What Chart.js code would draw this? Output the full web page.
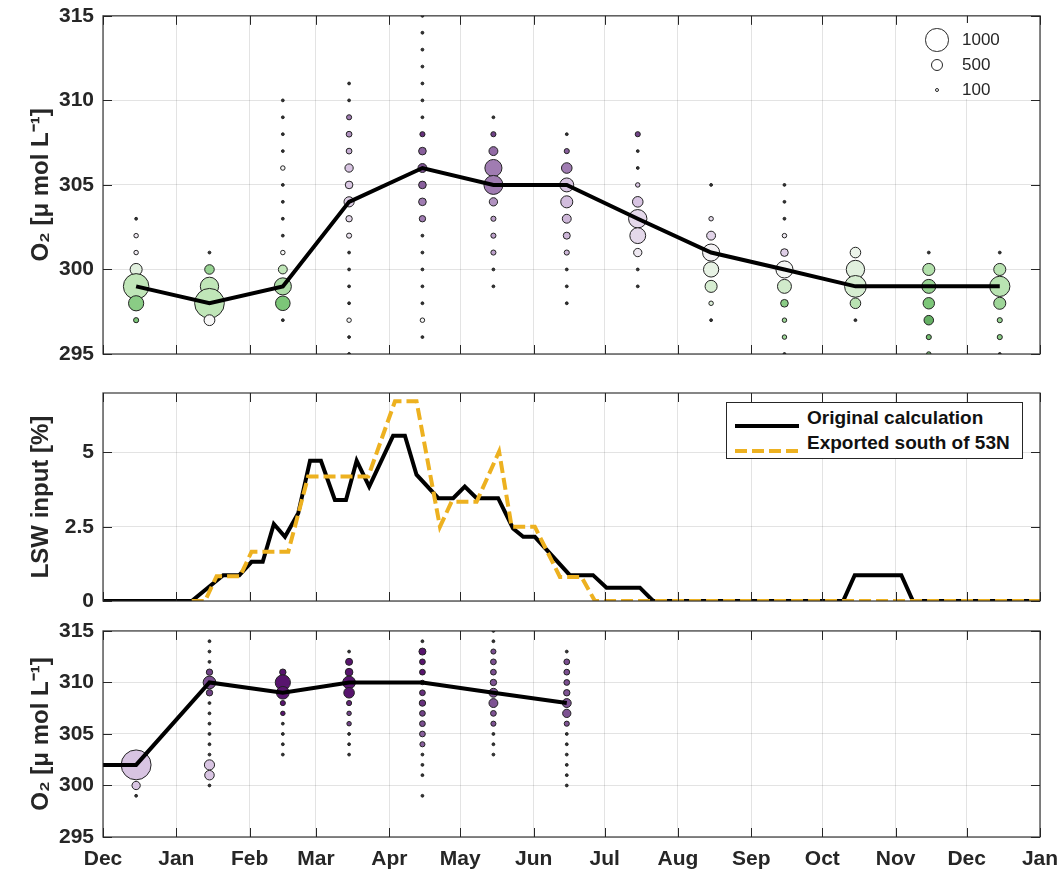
<!DOCTYPE html>
<html>
<head>
<meta charset="utf-8">
<script src="https://cdn.jsdelivr.net/npm/chart.js@4.4.1/dist/chart.umd.min.js"></script>
<style>
  body { margin: 0; background: #fff; }
  #wrap { position: relative; width: 1062px; height: 875px; font-family: 'Liberation Sans', Arial, Helvetica, sans-serif; }
  #wrap canvas { position: absolute; left: 0; }
  .box { position: absolute; background: #fff; }
  .lab { position: absolute; color: #262626; white-space: nowrap; }
  .dot { position: absolute; border: 1px solid #262626; border-radius: 50%; box-sizing: border-box; background: #fff; }
</style>
</head>
<body>
<div id="wrap">
  <canvas id="upper" width="1062" height="372" style="top:0"></canvas>
  <canvas id="middle" width="1062" height="235" style="top:380px"></canvas>
  <canvas id="lower" width="1062" height="260" style="top:615px"></canvas>
</div>
<script>
// x axis: days since 1 Dec, one tick per month start
const monthNames = ['Dec', 'Jan', 'Feb', 'Mar', 'Apr', 'May', 'Jun', 'Jul', 'Aug', 'Sep', 'Oct', 'Nov', 'Dec', 'Jan'];
const monthStart = [0, 31, 62, 90, 121, 151, 182, 212, 243, 274, 304, 335, 365, 396];
const colDays = [14, 45, 76, 104, 135, 165, 196, 226, 257, 288, 318, 349, 379];

// upper panel: monthly mean O2
const upperMean = [299, 298, 299, 304, 306, 305, 305, 303, 301, 300, 299, 299, 299];
// upper panel samples, per month: [O2, count, colour index (-3 green .. +3 purple)]
const upperCols = [
  [[303, 20, 0], [302, 100, 0.3], [301, 100, 0.3], [300, 460, -0.4], [299, 1100, -1], [298, 610, -1.8], [297, 130, -2]],
  [[301, 20, 0], [300, 340, -1.6], [299, 760, -1], [298, 1300, -1], [297, 400, 0]],
  [[310, 20, 0], [309, 20, 0], [308, 20, 0], [307, 20, 0], [306, 100, 0], [305, 20, 0], [304, 20, 0], [303, 20, 0], [302, 20, 0], [301, 100, 0], [300, 310, -1], [299, 700, -1.3], [298, 580, -2], [297, 20, 0]],
  [[311, 20, 0], [310, 20, 0], [309, 130, 2], [308, 160, 1.7], [307, 160, 1.3], [306, 280, 1], [305, 250, 0.9], [304, 370, 0.8], [303, 190, 0.6], [302, 130, 0.4], [301, 20, 0], [300, 20, 0], [299, 20, 0], [298, 20, 0], [297, 100, 0], [296, 20, 0], [295, 20, 0]],
  [[315, 20, 0], [314, 20, 0], [313, 20, 0], [312, 20, 0], [311, 20, 0], [310, 20, 0], [309, 20, 0], [308, 130, 3.2], [307, 250, 2.5], [306, 310, 2.7], [305, 250, 2.5], [304, 250, 2], [303, 190, 2], [302, 20, 0], [301, 20, 0], [300, 20, 0], [299, 20, 0], [298, 20, 0], [297, 100, 0], [296, 20, 0]],
  [[309, 20, 0], [308, 130, 3], [307, 310, 2.3], [306, 700, 2], [305, 790, 2], [304, 280, 1.7], [303, 130, 1.5], [302, 130, 1.5], [301, 130, 1.5], [300, 20, 0], [299, 20, 0]],
  [[308, 20, 0], [307, 130, 2.5], [306, 390, 2], [305, 550, 1], [304, 460, 1.1], [303, 310, 1.2], [302, 220, 1.2], [301, 130, 1.2], [300, 20, 0], [299, 20, 0], [298, 20, 0]],
  [[308, 130, 3], [307, 20, 0], [306, 20, 0], [305, 100, 1], [304, 390, 1], [303, 760, 0.6], [302, 640, 0.6], [301, 280, 0.3], [300, 20, 0], [299, 20, 0]],
  [[305, 20, 0], [303, 100, 0.5], [302, 310, 0.7], [301, 700, 0.1], [300, 610, -0.3], [299, 460, -0.6], [298, 100, -0.5], [297, 20, 0]],
  [[305, 20, 0], [304, 20, 0], [303, 20, 0], [302, 100, 0.3], [301, 250, 0.8], [300, 700, -0.05], [299, 550, -0.7], [298, 250, -1.8], [297, 100, -1.5], [296, 100, -1.5], [295, 20, 0]],
  [[301, 390, -0.2], [300, 760, -0.4], [299, 920, -0.6], [298, 390, -1.1], [297, 20, 0]],
  [[301, 20, 0], [300, 460, -1.2], [299, 550, -1.6], [298, 430, -2], [297, 340, -2.5], [296, 130, -2.2], [295, 100, -2]],
  [[301, 20, 0], [300, 460, -1.1], [299, 850, -1.1], [298, 460, -1.5], [297, 130, -1.6], [296, 130, -1.8], [295, 20, 0]]
];

// middle panel: LSW input [%]
const origDay = [0, 37.5, 50.8, 57.6, 62.8, 67.5, 72.2, 76.9, 82.5, 87.5, 92.1, 98.0, 102.7, 107.2, 112.5, 122.6, 127.6, 132.5, 141.7, 148.0, 152.9, 157.9, 167.0, 173.3, 177.6, 182.5, 197.3, 207.1, 212.8, 226.9, 232.5, 312.8, 317.7, 337.4, 342.3, 396];
const origPct = [0, 0, 0.87, 0.87, 1.32, 1.32, 2.59, 2.16, 2.95, 4.72, 4.72, 3.4, 3.4, 4.72, 3.85, 5.56, 5.56, 4.25, 3.46, 3.46, 3.85, 3.46, 3.46, 2.44, 2.16, 2.16, 0.87, 0.87, 0.45, 0.45, 0, 0, 0.87, 0.87, 0, 0];
const southDay = [37.5, 43.1, 48.0, 57.9, 62.8, 78.3, 86.7, 112.1, 123.4, 132.5, 142.4, 147.3, 157.9, 167.4, 172.7, 182.5, 193.1, 202.2, 207.9, 396];
const southPct = [0, 0, 0.83, 0.83, 1.66, 1.66, 4.19, 4.19, 6.72, 6.72, 2.5, 3.34, 3.34, 5.03, 2.5, 2.5, 0.81, 0.81, 0, 0];

// lower panel: monthly mean O2 and samples
const lowerDays = [0, 14, 45, 76, 104, 135, 165, 196];
const lowerMean = [302, 302, 310, 309, 310, 310, 309, 308];
const lowerCols = [
  [[302, 1310, 1], [300, 280, 1], [299, 20, 0]],
  [[314, 20, 0], [313, 20, 0], [312, 20, 0], [311, 190, 3], [310, 490, 2.8], [309, 190, 3], [308, 20, 0], [307, 20, 0], [306, 20, 0], [305, 20, 0], [304, 20, 0], [303, 20, 0], [302, 370, 1], [301, 340, 1], [300, 20, 0]],
  [[311, 190, 3.5], [310, 610, 3.5], [309, 490, 3.5], [308, 130, 3.5], [307, 100, 3.5], [306, 20, 0], [305, 20, 0], [304, 20, 0], [303, 20, 0]],
  [[313, 20, 0], [312, 220, 3.5], [311, 250, 3.5], [310, 490, 3.5], [309, 390, 3.5], [308, 130, 3.3], [307, 100, 3], [306, 100, 3], [305, 20, 0], [304, 20, 0], [303, 20, 0]],
  [[314, 20, 0], [313, 220, 3.5], [312, 160, 3.5], [311, 160, 3.5], [310, 100, 3.3], [309, 160, 3.2], [308, 190, 3.2], [307, 160, 3], [306, 160, 2.8], [305, 160, 2.5], [304, 130, 2.5], [303, 20, 0], [302, 20, 0], [301, 20, 0], [299, 20, 0]],
  [[315, 20, 0], [314, 20, 0], [313, 130, 2.8], [312, 160, 2.8], [311, 160, 2.8], [310, 190, 2.7], [309, 310, 2.7], [308, 310, 2.7], [307, 160, 2.7], [306, 130, 2.7], [305, 20, 0], [304, 20, 0], [303, 20, 0]],
  [[313, 20, 0], [312, 160, 2.8], [311, 160, 2.8], [310, 160, 2.8], [309, 190, 2.7], [308, 310, 2.7], [307, 280, 2.7], [306, 130, 2.7], [305, 20, 0], [304, 20, 0], [303, 20, 0], [302, 20, 0], [301, 20, 0], [300, 20, 0]]
];

const sizeLegend = [1000, 500, 100];

// ---- styling helpers ----
const FONT = "'Liberation Sans', Arial, Helvetica, sans-serif";
const INK = '#262626';
const GRID = 'rgba(38,38,38,0.13)';
const radius = n => 1.2 + n * 0.0105;

const shadeStops = [
  [-3, [77, 154, 79]], [-2, [124, 198, 120]], [-1, [192, 230, 184]], [0, [247, 247, 247]],
  [1, [216, 196, 226]], [2, [160, 124, 178]], [3, [112, 66, 134]], [3.5, [88, 20, 110]]
];
function shadeColor(s) {
  s = Math.max(-3, Math.min(3.5, s || 0));
  for (let i = 1; i < shadeStops.length; i++) {
    const [v1, c1] = shadeStops[i];
    const [v0, c0] = shadeStops[i - 1];
    if (s <= v1) {
      const t = (s - v0) / (v1 - v0);
      const c = c0.map((a, k) => Math.round(a + (c1[k] - a) * t));
      return 'rgb(' + c.join(',') + ')';
    }
  }
  return 'rgb(88,20,110)';
}

function bubblePoints(cols, days) {
  const pts = [];
  cols.forEach((col, i) => {
    col.forEach(([o2, n, s]) => pts.push({ x: days[i], y: o2, r: radius(n), s: s, n: n }));
  });
  return pts;
}

// tiny samples read as dark dots
const bubbleFill = c => {
  if (!c.raw) return '#ccc';
  return c.raw.n < 50 ? '#333' : shadeColor(c.raw.s);
};

// axes box with inward MATLAB-style ticks
const frame = {
  id: 'frame',
  afterDraw(chart) {
    const { ctx, chartArea: a, scales } = chart;
    ctx.save();
    ctx.strokeStyle = INK;
    ctx.lineWidth = 1;
    ctx.beginPath();
    scales.x.ticks.forEach(t => {
      const px = Math.round(scales.x.getPixelForValue(t.value)) + 0.5;
      ctx.moveTo(px, a.bottom); ctx.lineTo(px, a.bottom - 9);
      ctx.moveTo(px, a.top); ctx.lineTo(px, a.top + 9);
    });
    scales.y.ticks.forEach(t => {
      const py = Math.round(scales.y.getPixelForValue(t.value)) + 0.5;
      ctx.moveTo(a.left, py); ctx.lineTo(a.left + 9, py);
      ctx.moveTo(a.right, py); ctx.lineTo(a.right - 9, py);
    });
    ctx.stroke();
    ctx.strokeStyle = 'rgba(38,38,38,0.85)';
    ctx.lineWidth = 1.3;
    ctx.strokeRect(a.left, a.top, a.right - a.left, a.bottom - a.top);
    ctx.restore();
  }
};

function makeScales(yMin, yMax, yTicks, title, showX) {
  return {
    x: {
      type: 'linear', min: 0, max: 396,
      afterBuildTicks: s => { s.ticks = monthStart.map(v => ({ value: v })); },
      ticks: {
        display: showX, autoSkip: false, maxRotation: 0, padding: 10,
        color: INK, font: { family: FONT, size: 21, weight: 'bold' },
        callback: (v, i) => monthNames[i]
      },
      grid: { color: GRID, drawTicks: false },
      border: { display: false },
      afterFit: s => { s.height = showX ? 38 : 0; s.paddingLeft = 0; s.paddingRight = 0; }
    },
    y: {
      type: 'linear', min: yMin, max: yMax,
      afterBuildTicks: s => { s.ticks = yTicks.map(v => ({ value: v })); },
      ticks: { padding: 9, color: INK, font: { family: FONT, size: 21, weight: 'bold' } },
      grid: { color: GRID, drawTicks: false },
      border: { display: false },
      title: { display: true, text: title, color: INK, font: { family: FONT, size: 24, weight: 'bold' }, padding: { top: 27, bottom: 0 } },
      afterFit: s => { s.width = 103; s.paddingTop = 0; s.paddingBottom = 0; }
    }
  };
}

const baseOpts = (pad, scales) => ({
  responsive: false,
  animation: false,
  layout: { padding: pad },
  plugins: { legend: { display: false }, tooltip: { enabled: false } },
  events: [],
  scales: scales
});

const o2Title = 'O\u2082 [\u03bc mol L\u207b\u00b9]';

new Chart(document.getElementById('upper'), {
  type: 'bubble',
  data: {
    datasets: [
      {
        type: 'line', order: 0,
        data: colDays.map((d, i) => ({ x: d, y: upperMean[i] })),
        borderColor: '#000', borderWidth: 4, pointRadius: 0, tension: 0, fill: false
      },
      {
        type: 'bubble', order: 1,
        data: bubblePoints(upperCols, colDays),
        backgroundColor: bubbleFill,
        borderColor: '#222', borderWidth: 1
      }
    ]
  },
  options: baseOpts({ top: 14, bottom: 18, left: 0, right: 22 }, makeScales(295, 315, [295, 300, 305, 310, 315], o2Title, false)),
  plugins: [frame]
});

new Chart(document.getElementById('middle'), {
  type: 'line',
  data: {
    datasets: [
      {
        label: 'Exported south of 53N', order: 0,
        data: southDay.map((d, i) => ({ x: d, y: southPct[i] })),
        borderColor: '#EDB120', borderWidth: 4, borderDash: [12, 5], pointRadius: 0, tension: 0, fill: false
      },
      {
        label: 'Original calculation', order: 1,
        data: origDay.map((d, i) => ({ x: d, y: origPct[i] })),
        borderColor: '#000', borderWidth: 4, pointRadius: 0, tension: 0, fill: false
      }
    ]
  },
  options: baseOpts({ top: 13, bottom: 14, left: 0, right: 22 }, makeScales(0, 7, [0, 2.5, 5], 'LSW input [%]', false)),
  plugins: [frame]
});

new Chart(document.getElementById('lower'), {
  type: 'bubble',
  data: {
    datasets: [
      {
        type: 'line', order: 0,
        data: lowerDays.map((d, i) => ({ x: d, y: lowerMean[i] })),
        borderColor: '#000', borderWidth: 4, pointRadius: 0, tension: 0, fill: false
      },
      {
        type: 'bubble', order: 1,
        data: bubblePoints(lowerCols, colDays),
        backgroundColor: bubbleFill,
        borderColor: '#222', borderWidth: 1
      }
    ]
  },
  options: baseOpts({ top: 14, bottom: 0, left: 0, right: 22 }, makeScales(295, 315, [295, 300, 305, 310, 315], o2Title, true)),
  plugins: [frame]
});

// ---- legends (html overlays) ----
const wrap = document.getElementById('wrap');
function add(cls, css, html) {
  const el = document.createElement('div');
  el.className = cls;
  el.style.cssText = css;
  if (html) el.innerHTML = html;
  wrap.appendChild(el);
  return el;
}

// bubble size legend
add('box', 'left:905px;top:23px;width:118px;height:76px;');
sizeLegend.forEach((n, i) => {
  const r = radius(n);
  const cy = 40 + i * 25;
  add('dot', `left:${937 - r}px;top:${cy - r}px;width:${2 * r}px;height:${2 * r}px;`);
  add('lab', `left:962px;top:${cy - 10}px;font-size:17px;line-height:20px;`, String(n));
});

// line legend
add('box', 'left:726px;top:402px;width:297px;height:57px;border:1px solid #262626;box-sizing:border-box;');
const legendRows = [
  ['Original calculation', '#000', ''],
  ['Exported south of 53N', '#EDB120', '12 5']
];
legendRows.forEach(([txt, col, dash], i) => {
  const cy = 418 + i * 25;
  add('lab', `left:735px;top:${cy - 3}px;width:64px;height:6px;`,
    `<svg width="64" height="6"><line x1="0" y1="3" x2="64" y2="3" stroke="${col}" stroke-width="4" ${dash ? 'stroke-dasharray="' + dash + '"' : ''}/></svg>`);
  add('lab', `left:807px;top:${cy - 11}px;font-size:19px;line-height:22px;font-weight:bold;color:#111;`, txt);
});
</script>
</body>
</html>
